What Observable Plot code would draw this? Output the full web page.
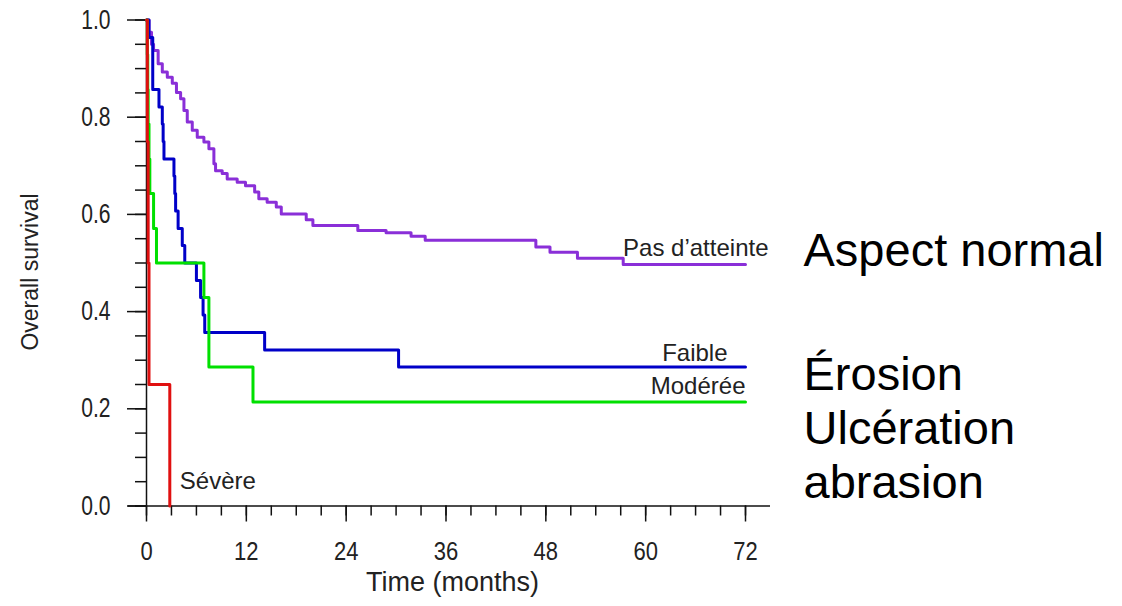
<!DOCTYPE html>
<html>
<head>
<meta charset="utf-8">
<script src="https://cdn.jsdelivr.net/npm/d3@7"></script>
<script src="https://cdn.jsdelivr.net/npm/@observablehq/plot@0.6"></script>
<style>
  html, body { margin: 0; padding: 0; background: #ffffff; }
  #chart { width: 1122px; height: 606px; }
</style>
</head>
<body>
<div id="chart"></div>
<script>
// ---- Data ----
const groupKeys = ["aspect", "faible", "moderee", "severe"];
const groupLabels = ["Pas d’atteinte", "Faible", "Modérée", "Sévère"];
const groupColors = ["#8a2fd8", "#0000c8", "#00e000", "#e01010"];

// Pas d'atteinte (aspect normal)
const aspectTime = [0, 0.3, 0.6, 0.85, 1.4, 1.9, 2.5, 3.1, 3.6, 4.1, 4.5, 4.9, 5.5, 6.1, 6.9, 7.5, 8.1, 8.3, 9.1, 9.7, 10.9, 11.9, 13.0, 13.5, 14.5, 15.6, 16.2, 19.2, 20.0, 25.4, 28.8, 31.8, 33.5, 46.8, 48.5, 51.8, 57.3, 72];
const aspectSurv = [1.0, 0.975, 0.95, 0.937, 0.91, 0.893, 0.882, 0.870, 0.851, 0.838, 0.814, 0.790, 0.773, 0.759, 0.749, 0.735, 0.704, 0.690, 0.684, 0.673, 0.666, 0.659, 0.646, 0.632, 0.625, 0.615, 0.601, 0.589, 0.577, 0.567, 0.562, 0.555, 0.547, 0.533, 0.522, 0.510, 0.497, 0.497];

// Faible
const faibleTime = [0, 0.3, 0.75, 1.5, 1.9, 2.0, 2.1, 3.3, 3.4, 3.5, 3.8, 4.3, 4.6, 6.0, 6.5, 6.8, 7.0, 14.2, 30.3, 72];
const faibleSurv = [1.0, 0.964, 0.857, 0.821, 0.786, 0.750, 0.714, 0.679, 0.643, 0.607, 0.571, 0.536, 0.500, 0.464, 0.429, 0.393, 0.357, 0.321, 0.286, 0.286];

// Modérée
const modereeTime = [0, 0.1, 0.15, 0.2, 0.3, 0.4, 0.85, 1.2, 6.9, 7.5, 12.8, 72];
const modereeSurv = [1.0, 0.929, 0.857, 0.786, 0.714, 0.643, 0.571, 0.500, 0.429, 0.286, 0.214, 0.214];

// Sévère
const severeTime = [0, 0.1, 0.2, 0.3, 2.8];
const severeSurv = [1.0, 0.75, 0.5, 0.25, 0];

// Axis ticks
const majorX = [0, 12, 24, 36, 48, 60, 72];
const minorX = d3.range(0, 73, 3);
const majorY = [0, 0.2, 0.4, 0.6, 0.8, 1.0];
const minorY = d3.range(0, 21).map(i => i / 20);

// Side annotations
const sideTop = ["Aspect normal"];
const sideBottom = ["Érosion\nUlcération\nabrasion"];

// ---- Build table ----
const times = [aspectTime, faibleTime, modereeTime, severeTime];
const survs = [aspectSurv, faibleSurv, modereeSurv, severeSurv];
const rows = groupKeys.flatMap((g, k) => times[k].map((t, i) => ({group: g, t, s: survs[k][i]})));
const lastOf = g => rows.filter(d => d.group === g).at(-1);

const font = "'Liberation Sans', Arial, Helvetica, sans-serif";

const labelMark = (g, opts) => Plot.text([lastOf(g)], {
  x: "t", y: "s", text: () => groupLabels[groupKeys.indexOf(g)],
  lineAnchor: "bottom", fontSize: 24, fill: "#222", ...opts
});

const chart = Plot.plot({
  width: 1122,
  height: 606,
  marginLeft: 146,
  marginRight: 377,
  marginTop: 19.5,
  marginBottom: 100.5,
  x: {domain: [0, 72]},
  y: {domain: [0, 1]},
  color: {domain: groupKeys, range: groupColors},
  style: {fontFamily: font, background: "#ffffff", color: "#111"},
  marks: [
    // minor ticks
    Plot.axisY({ticks: minorY, tickSize: 11, tickFormat: () => "", label: null, strokeWidth: 1.5}),
    Plot.axisX({ticks: minorX, tickSize: 10, tickFormat: () => "", label: null, strokeWidth: 1.5}),
    // major ticks + labels
    Plot.axisY({ticks: majorY, tickSize: 19, tickPadding: 17, tickFormat: d3.format(".1f"),
      label: null, fontSize: 21, strokeWidth: 1.5, fill: "#222"}),
    Plot.axisX({ticks: majorX, tickSize: 16, tickPadding: 20, tickFormat: d3.format("d"),
      label: null, fontSize: 21, strokeWidth: 1.5, fill: "#222"}),
    // axis lines
    Plot.ruleY([0], {insetLeft: -18, insetRight: -25, strokeWidth: 1.5}),
    Plot.ruleX([0], {strokeWidth: 1.5}),
    // survival curves
    Plot.line(rows, {x: "t", y: "s", z: "group", stroke: "group", curve: "step-after", strokeWidth: 3}),
    // curve labels
    labelMark("aspect", {textAnchor: "end", dx: 23, dy: -8}),
    labelMark("faible", {textAnchor: "end", dx: -18, dy: -6}),
    labelMark("moderee", {textAnchor: "end", dx: 0, dy: -8}),
    labelMark("severe", {textAnchor: "start", dx: 10, dy: -17.5}),
    // axis titles
    Plot.text(["Overall survival"], {frameAnchor: "left", text: d => d, rotate: -90, dx: -116, dy: 9,
      textAnchor: "middle", fontSize: 23, fill: "#222", lineAnchor: "middle"}),
    Plot.text(["Time (months)"], {frameAnchor: "bottom", text: d => d, dx: 6.5, dy: 76,
      textAnchor: "middle", fontSize: 27, fill: "#222", lineAnchor: "middle"}),
    // side annotations
    Plot.text(sideTop, {frameAnchor: "top-right", text: d => d, textAnchor: "start", lineAnchor: "bottom",
      dx: 58, dy: 246, fontSize: 47, fill: "#000"}),
    Plot.text(sideBottom, {frameAnchor: "top-right", text: d => d, textAnchor: "start", lineAnchor: "top",
      lineHeight: 1.15, dx: 58, dy: 332, fontSize: 47, fill: "#000"})
  ]
});

document.getElementById("chart").append(chart);

// Tick labels in the reference are narrow and tall: enlarge and condense them.
function condense(selector, size, ratio) {
  chart.querySelectorAll(selector).forEach(t => {
    if (!t.textContent) return;
    t.style.fontSize = size + "px";
    const w = t.getComputedTextLength();
    t.setAttribute("textLength", (w * ratio).toFixed(2));
    t.setAttribute("lengthAdjust", "spacingAndGlyphs");
  });
}
condense('g[aria-label="y-axis tick label"] text', 27, 0.78);
condense('g[aria-label="x-axis tick label"] text', 25, 0.88);
</script>
</body>
</html>
